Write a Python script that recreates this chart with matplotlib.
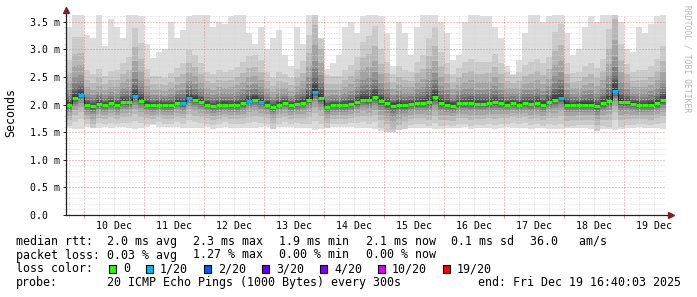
"""
SmokePing style latency chart (10 days, 20 pings per step) rebuilt with matplotlib.
"""

import numpy as np
import pandas as pd
import matplotlib
matplotlib.use("Agg")
import matplotlib.pyplot as plt
import matplotlib.dates as mdates
from matplotlib.ticker import MultipleLocator, NullFormatter, FuncFormatter
from matplotlib.patches import Rectangle

# ---- data (ms) ------------------------------------------------------------
END_TIME = "2025-12-19 16:40:03"
STEP = "144min"

median = [
    1.99, 2.12, 2.18, 1.99, 1.97, 2.01, 1.99, 2.02, 1.99, 2.05,
    2.04, 2.16, 2.07, 2.00, 1.99, 2.00, 1.99, 1.99, 2.03, 2.02,
    2.12, 2.09, 2.05, 2.00, 1.97, 1.99, 2.00, 1.99, 1.99, 2.02,
    2.07, 2.09, 2.05, 2.00, 1.96, 2.00, 2.03, 1.99, 2.01, 2.03,
    2.09, 2.23, 2.12, 1.96, 1.99, 1.99, 1.99, 2.01, 2.04, 2.09,
    2.08, 2.14, 2.07, 2.02, 1.98, 2.00, 1.99, 2.01, 2.02, 2.02,
    2.04, 2.13, 2.02, 2.00, 1.98, 2.02, 2.02, 2.02, 2.01, 2.01,
    2.02, 2.04, 2.02, 2.00, 2.02, 2.00, 2.02, 2.01, 2.02, 1.99,
    2.05, 2.09, 2.12, 2.00, 1.99, 2.00, 2.00, 2.00, 1.97, 2.02,
    2.06, 2.24, 2.05, 2.04, 2.01, 1.99, 1.99, 2.00, 2.02, 2.08,
]

# lost pings out of 20
loss = [
    0, 0, 1, 0, 0, 0, 0, 0, 0, 0,
    0, 1, 0, 0, 0, 0, 0, 0, 0, 1,
    1, 0, 0, 0, 0, 0, 0, 0, 0, 0,
    1, 0, 1, 0, 0, 0, 0, 0, 0, 0,
    0, 1, 0, 0, 0, 0, 0, 0, 0, 0,
    0, 0, 0, 0, 0, 0, 0, 0, 0, 0,
    0, 0, 0, 0, 0, 0, 0, 0, 0, 0,
    0, 0, 0, 0, 0, 0, 0, 0, 0, 0,
    0, 0, 1, 0, 0, 0, 0, 0, 0, 0,
    0, 1, 0, 0, 0, 0, 0, 0, 0, 0,
]

# distance from median to the 5th highest / 5th lowest ping
spread_up = [
    0.28, 0.38, 0.36, 0.22, 0.20, 0.22, 0.18, 0.20, 0.22, 0.24,
    0.28, 0.42, 0.36, 0.22, 0.18, 0.18, 0.17, 0.20, 0.22, 0.25,
    0.30, 0.28, 0.24, 0.20, 0.20, 0.22, 0.20, 0.22, 0.24, 0.26,
    0.28, 0.28, 0.26, 0.20, 0.18, 0.20, 0.18, 0.17, 0.22, 0.26,
    0.40, 0.58, 0.42, 0.20, 0.18, 0.18, 0.22, 0.24, 0.28, 0.36,
    0.40, 0.44, 0.32, 0.26, 0.20, 0.24, 0.22, 0.20, 0.26, 0.30,
    0.40, 0.44, 0.32, 0.26, 0.20, 0.22, 0.26, 0.28, 0.26, 0.26,
    0.26, 0.30, 0.25, 0.20, 0.18, 0.20, 0.24, 0.26, 0.28, 0.26,
    0.28, 0.42, 0.46, 0.26, 0.20, 0.20, 0.24, 0.26, 0.24, 0.28,
    0.45, 0.62, 0.36, 0.24, 0.20, 0.22, 0.22, 0.24, 0.28, 0.34,
]
spread_lo = [
    0.13, 0.15, 0.15, 0.12, 0.15, 0.12, 0.12, 0.12, 0.12, 0.13,
    0.13, 0.16, 0.14, 0.12, 0.12, 0.11, 0.12, 0.12, 0.12, 0.13,
    0.14, 0.14, 0.13, 0.12, 0.12, 0.12, 0.11, 0.12, 0.12, 0.13,
    0.14, 0.14, 0.13, 0.12, 0.14, 0.12, 0.12, 0.12, 0.12, 0.13,
    0.15, 0.18, 0.16, 0.14, 0.12, 0.12, 0.12, 0.12, 0.13, 0.14,
    0.15, 0.16, 0.17, 0.18, 0.20, 0.18, 0.15, 0.13, 0.13, 0.13,
    0.15, 0.16, 0.14, 0.13, 0.13, 0.13, 0.13, 0.14, 0.13, 0.13,
    0.13, 0.14, 0.13, 0.12, 0.12, 0.12, 0.12, 0.13, 0.13, 0.13,
    0.14, 0.16, 0.16, 0.14, 0.13, 0.13, 0.13, 0.13, 0.16, 0.14,
    0.16, 0.18, 0.16, 0.14, 0.13, 0.12, 0.12, 0.13, 0.13, 0.14,
]

rtt_max = [
    3.40, 3.70, 3.70, 3.25, 3.20, 3.70, 3.05, 3.55, 3.40, 3.20,
    3.70, 3.70, 3.60, 3.10, 2.85, 2.95, 3.00, 3.50, 3.20, 3.35,
    3.60, 3.70, 3.70, 3.70, 3.40, 3.50, 3.45, 3.60, 3.70, 3.70,
    3.30, 3.10, 3.40, 3.00, 3.20, 3.35, 2.90, 2.70, 3.40, 3.10,
    3.70, 3.70, 3.20, 2.65, 2.75, 2.90, 3.40, 3.50, 3.30, 3.60,
    3.70, 3.70, 3.60, 3.30, 2.70, 3.50, 3.30, 2.90, 3.40, 3.70,
    3.70, 3.70, 3.50, 3.30, 2.80, 2.90, 3.50, 3.70, 3.70, 3.60,
    3.60, 3.40, 3.20, 2.70, 2.55, 2.80, 3.30, 3.70, 3.70, 3.50,
    3.60, 3.70, 3.70, 3.30, 2.90, 3.00, 3.40, 3.60, 3.50, 3.70,
    3.70, 3.70, 3.50, 3.00, 2.95, 3.40, 3.30, 3.45, 3.60, 3.70,
]
rtt_min = [
    1.58, 1.55, 1.56, 1.60, 1.58, 1.57, 1.59, 1.58, 1.60, 1.59,
    1.57, 1.56, 1.58, 1.60, 1.62, 1.60, 1.59, 1.60, 1.60, 1.58,
    1.57, 1.58, 1.57, 1.59, 1.56, 1.58, 1.59, 1.58, 1.57, 1.58,
    1.57, 1.58, 1.59, 1.60, 1.55, 1.59, 1.60, 1.59, 1.58, 1.57,
    1.58, 1.54, 1.56, 1.58, 1.60, 1.59, 1.60, 1.59, 1.58, 1.57,
    1.58, 1.55, 1.52, 1.50, 1.50, 1.53, 1.56, 1.58, 1.57, 1.58,
    1.57, 1.55, 1.56, 1.58, 1.58, 1.57, 1.59, 1.56, 1.57, 1.58,
    1.58, 1.56, 1.58, 1.59, 1.58, 1.57, 1.58, 1.56, 1.57, 1.58,
    1.56, 1.55, 1.55, 1.57, 1.58, 1.58, 1.57, 1.56, 1.52, 1.56,
    1.55, 1.53, 1.55, 1.57, 1.58, 1.59, 1.57, 1.58, 1.57, 1.56,
]

# ping pair position (in units of the 5th-ping spread), ranks 2..10
rank_factor = [2.9, 2.1, 1.5, 1.0, 0.7, 0.45, 0.32, 0.2, 0.08]
smoke_grey = [221, 202, 183, 164, 145, 126, 107, 88, 69, 50]

loss_levels = [0, 1, 2, 3, 4, 10, 19]
loss_labels = ["0", "1/20", "2/20", "3/20", "4/20", "10/20", "19/20"]
loss_colors = ["#26ff00", "#00b8ff", "#0059ff", "#5e00ff", "#7e00ff", "#dd00ff", "#ff0000"]

y_ticks = [0.0, 0.5, 1.0, 1.5, 2.0, 2.5, 3.0, 3.5]
y_ticklabels = ["0.0  ", "0.5 m", "1.0 m", "1.5 m", "2.0 m", "2.5 m", "3.0 m", "3.5 m"]

rtt_stats = ["2.0 ms avg", "2.3 ms max", "1.9 ms min", "2.1 ms now", "0.1 ms sd", "36.0   am/s"]
loss_stats = ["0.03 % avg", "1.27 % max", "0.00 % min", "0.00 % now"]
probe_text = "20 ICMP Echo Pings (1000 Bytes) every 300s"
end_text = "end: Fri Dec 19 16:40:03 2025"

# ---- style ----------------------------------------------------------------
W, H = 697, 297
MONO = "DejaVu Sans Mono"
plt.rcParams.update({"font.family": MONO, "font.size": 7.1})

GRID_MAJOR = "#e08888"
GRID_MINOR = "#d6d6d6"
AXIS_COL = "#212121"
ARROW_COL = "#801f1f"


def grey(g):
    return "#%02x%02x%02x" % (g, g, g)


def loss_color(n):
    col = loss_colors[0]
    for lvl, c in zip(loss_levels, loss_colors):
        if n >= lvl:
            col = c
    return col


def px(x, y):
    """pixel position -> figure fraction"""
    return x / W, 1 - y / H


fig = plt.figure(figsize=(W / 100, H / 100), dpi=100)
ax = fig.add_axes([66 / W, 82 / H, 600 / W, 200 / H])

times = pd.date_range(end=END_TIME, periods=len(median) + 1, freq=STEP)
edges = mdates.date2num(times.to_pydatetime())

med = np.array(median)
top = np.array(rtt_max)
bot = np.array(rtt_min)
up = np.array(spread_up)
dn = np.array(spread_lo)

# smoke: outer pair first, then inner pairs, getting darker
ax.stairs(top, edges, baseline=bot, fill=True, color=grey(smoke_grey[0]),
          linewidth=0, zorder=1)
for f, g in zip(rank_factor, smoke_grey[1:]):
    hi = np.minimum(med + f * up, top)
    lo = np.maximum(med - f * dn, bot)
    ax.stairs(hi, edges, baseline=lo, fill=True, color=grey(g),
              linewidth=0, zorder=1)

# median, coloured by loss
ax.stairs(med, edges, color="#202020", linewidth=0.7, zorder=4)
ax.hlines(med, edges[:-1], edges[1:], colors=[loss_color(n) for n in loss],
          linewidth=2.3, zorder=5)

ax.set_xlim(edges[0], edges[-1])
ax.set_ylim(0, 3.62)

# axes
ax.set_axisbelow(False)
for s in ax.spines.values():
    s.set_visible(False)
ax.plot([0, 0], [0, 1.01], transform=ax.transAxes, color=AXIS_COL,
        linewidth=0.9, clip_on=False, zorder=6)
ax.plot([0, 1.004], [0, 0], transform=ax.transAxes, color=AXIS_COL,
        linewidth=0.9, clip_on=False, zorder=6)
ax.plot([0], [1.027], marker="^", markersize=4.2, color=ARROW_COL,
        transform=ax.transAxes, clip_on=False, zorder=7)
ax.plot([1.009], [0], marker=">", markersize=4.2, color=ARROW_COL,
        transform=ax.transAxes, clip_on=False, zorder=7)

# x: red at midnight, grey every 6 h, labels at noon
ax.xaxis.set_major_locator(mdates.DayLocator())
ax.xaxis.set_major_formatter(NullFormatter())
ax.xaxis.set_minor_locator(mdates.HourLocator(byhour=[6, 12, 18]))


def noon_label(v, pos):
    d = mdates.num2date(v)
    return d.strftime("%d %b").lstrip("0") if d.hour == 12 else ""


ax.xaxis.set_minor_formatter(FuncFormatter(noon_label))
ax.tick_params(axis="x", which="major", length=2, width=0.7, color=GRID_MAJOR)
ax.tick_params(axis="x", which="minor", length=2, width=0.7, color=GRID_MINOR,
               pad=2.5, labelsize=7.1)

ax.set_yticks(y_ticks, labels=y_ticklabels)
ax.yaxis.set_minor_locator(MultipleLocator(0.1))
ax.tick_params(axis="y", which="major", length=2.2, width=0.7, color=AXIS_COL,
               pad=2.2, labelsize=7.1)
ax.tick_params(axis="y", which="minor", length=1.5, width=0.7, color=GRID_MINOR)

dots = (0, (1, 2))
ax.grid(which="minor", color=GRID_MINOR, linewidth=0.72, linestyle=dots)
ax.grid(which="major", color=GRID_MAJOR, linewidth=0.72, linestyle=dots)

# labels around the canvas
fig.text(*px(11, 113), "Seconds", rotation=90, ha="center", va="center",
         fontsize=8.4)
fig.text(*px(687, 59), "RRDTOOL / TOBI OETIKER", rotation=270, ha="center",
         va="center", fontsize=5.8, color="#b4b4b4")

# legend block
LEG = 8.4
col_x = [107, 193, 279, 366, 451, 530]
rows_y = [241.5, 255.0, 269.0, 282.5]

fig.text(*px(16, rows_y[0]), "median rtt:", va="center", fontsize=LEG)
for x, s in zip(col_x, rtt_stats):
    fig.text(*px(x, rows_y[0]), s, va="center", fontsize=LEG)

fig.text(*px(16, rows_y[1]), "packet loss:", va="center", fontsize=LEG)
for x, s in zip(col_x, loss_stats):
    fig.text(*px(x, rows_y[1]), s, va="center", fontsize=LEG)

fig.text(*px(16, rows_y[2]), "loss color:", va="center", fontsize=LEG)
x = 109
for lab, c in zip(loss_labels, loss_colors):
    fx, fy = px(x, rows_y[2] + 4)
    fig.patches.append(Rectangle((fx, fy), 7 / W, 8 / H, transform=fig.transFigure,
                                 facecolor=c, edgecolor="black", linewidth=0.8))
    fig.text(*px(x + 14, rows_y[2]), lab, va="center", fontsize=LEG)
    x += 14 + 7 * len(lab) + 16

fig.text(*px(16, rows_y[3]), "probe:", va="center", fontsize=LEG)
fig.text(*px(107, rows_y[3]), probe_text, va="center", fontsize=LEG)
fig.text(*px(681, rows_y[3]), end_text, va="center", ha="right", fontsize=LEG)

fig.savefig("out.png", dpi=100)
